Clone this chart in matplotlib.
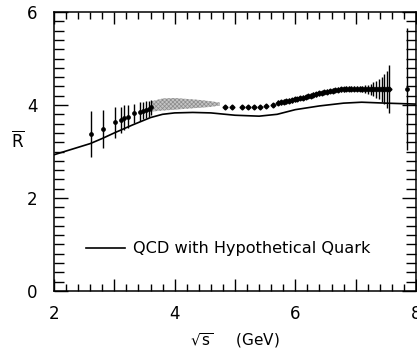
import matplotlib
matplotlib.use('Agg')
import matplotlib.pyplot as plt
from matplotlib.ticker import MultipleLocator, FuncFormatter

# QCD prediction curve
qcd_x = [2.0, 2.3, 2.6, 2.8, 3.0, 3.3, 3.6, 3.8, 4.0, 4.3, 4.6, 5.0, 5.4, 5.7,
         6.0, 6.4, 6.8, 7.1, 7.5, 8.0]
qcd_r = [2.93, 3.05, 3.17, 3.28, 3.40, 3.57, 3.73, 3.80, 3.83, 3.84, 3.83, 3.78,
         3.76, 3.80, 3.90, 3.98, 4.04, 4.06, 4.04, 4.02]

# low energy points (dots)
low_x = [2.61, 2.81, 3.01, 3.11, 3.16, 3.22, 3.32, 3.42, 3.47, 3.52, 3.57, 3.61]
low_r = [3.38, 3.49, 3.63, 3.68, 3.73, 3.75, 3.82, 3.86, 3.88, 3.90, 3.92, 3.95]
low_err = [0.50, 0.41, 0.33, 0.28, 0.27, 0.24, 0.21, 0.20, 0.19, 0.18, 0.17, 0.16]

# shaded band
band_x = [3.62, 3.8, 4.0, 4.2, 4.4, 4.6, 4.75]
band_lo = [3.86, 3.88, 3.90, 3.92, 3.94, 3.96, 3.99]
band_hi = [4.08, 4.14, 4.15, 4.13, 4.11, 4.08, 4.05]

# mid range diamonds
mid_x = [4.84, 4.95, 5.12, 5.22, 5.32, 5.42, 5.52, 5.63]
mid_r = [3.95, 3.95, 3.95, 3.95, 3.96, 3.96, 3.97, 4.00]
mid_err = [0.04, 0.04, 0.04, 0.04, 0.04, 0.04, 0.04, 0.04]

# dense high energy scan
hi_x = [5.72, 5.76, 5.81, 5.85, 5.90, 5.94, 5.99, 6.03, 6.08, 6.12, 6.17, 6.21,
        6.26, 6.30, 6.35, 6.39, 6.44, 6.48, 6.53, 6.57, 6.62, 6.66, 6.71, 6.75,
        6.80, 6.84, 6.89, 6.93, 6.98, 7.02, 7.07, 7.11, 7.16, 7.20, 7.25, 7.29,
        7.34, 7.38, 7.43, 7.47, 7.52, 7.56]
hi_r = [4.05, 4.06, 4.07, 4.08, 4.09, 4.10, 4.12, 4.13, 4.15, 4.16, 4.17, 4.19,
        4.20, 4.22, 4.23, 4.25, 4.26, 4.28, 4.29, 4.30, 4.31, 4.32, 4.33, 4.34,
        4.34, 4.35, 4.35, 4.35, 4.35, 4.35, 4.35, 4.35, 4.34, 4.34, 4.34, 4.34,
        4.34, 4.34, 4.34, 4.34, 4.34, 4.34]
hi_err = [0.05, 0.05, 0.05, 0.05, 0.05, 0.05, 0.05, 0.05, 0.05, 0.05, 0.05, 0.05,
          0.05, 0.05, 0.05, 0.05, 0.05, 0.05, 0.05, 0.05, 0.05, 0.05, 0.05, 0.05,
          0.05, 0.05, 0.05, 0.05, 0.05, 0.05, 0.05, 0.06, 0.08, 0.10, 0.12, 0.15,
          0.18, 0.22, 0.27, 0.32, 0.40, 0.52]

# lone point near the right edge
edge_x = [7.85]
edge_r = [4.34]
edge_err = [1.31]

plt.rcParams['hatch.linewidth'] = 0.5

fig = plt.figure(figsize=(4.17, 3.52), dpi=100)
ax = fig.add_axes([0.1295, 0.1733, 0.868, 0.7926])

ax.plot(qcd_x, qcd_r, color='black', lw=1.2, label='QCD with Hypothetical Quark')

ax.fill_between(band_x, band_lo, band_hi, facecolor='#c4c4c4', edgecolor='#8c8c8c',
                hatch='xxxxxxxx', lw=0)

ax.errorbar(low_x, low_r, yerr=low_err, fmt='o', ms=2.4, color='black',
            elinewidth=1.0, capsize=0)
ax.errorbar(mid_x, mid_r, yerr=mid_err, fmt='D', ms=2.5, color='black',
            elinewidth=1.0, capsize=0)
ax.errorbar(hi_x, hi_r, yerr=hi_err, fmt='D', ms=2.5, color='black',
            elinewidth=1.0, capsize=0)
ax.errorbar(edge_x, edge_r, yerr=edge_err, fmt='o', ms=2.4, color='black',
            elinewidth=1.0, capsize=0)

ax.set_xlim(2, 8)
ax.set_ylim(0, 6)

ax.xaxis.set_major_locator(MultipleLocator(1))
ax.xaxis.set_minor_locator(MultipleLocator(0.2))
ax.xaxis.set_major_formatter(FuncFormatter(lambda v, p: '%d' % v if int(round(v)) % 2 == 0 else ''))
ax.yaxis.set_major_locator(MultipleLocator(2))
ax.yaxis.set_minor_locator(MultipleLocator(0.2))

ax.tick_params(axis='x', which='major', direction='in', length=8.5, width=1.0,
               top=True, labelsize=12, pad=10)
ax.tick_params(axis='x', which='minor', direction='in', length=5, width=1.0, top=True)
ax.tick_params(axis='y', which='major', direction='in', length=10, width=1.0,
               right=True, labelsize=12, pad=12)
ax.tick_params(axis='y', which='minor', direction='in', length=7.5, width=1.0, right=True)

for s in ax.spines.values():
    s.set_linewidth(1.1)

ax.set_xlabel(r'$\sqrt{\mathrm{s}}$     (GeV)', fontsize=11, labelpad=6)
ax.set_ylabel(r'$\overline{\mathrm{R}}$', fontsize=12, rotation=0, labelpad=14)
ax.yaxis.set_label_coords(-0.1, 0.5)

ax.legend(loc='center left', bbox_to_anchor=(0.088, 0.151), frameon=False,
          fontsize=11.6, handlelength=2.4, handletextpad=0.55, borderpad=0,
          borderaxespad=0)

fig.savefig('out.png', dpi=100)
